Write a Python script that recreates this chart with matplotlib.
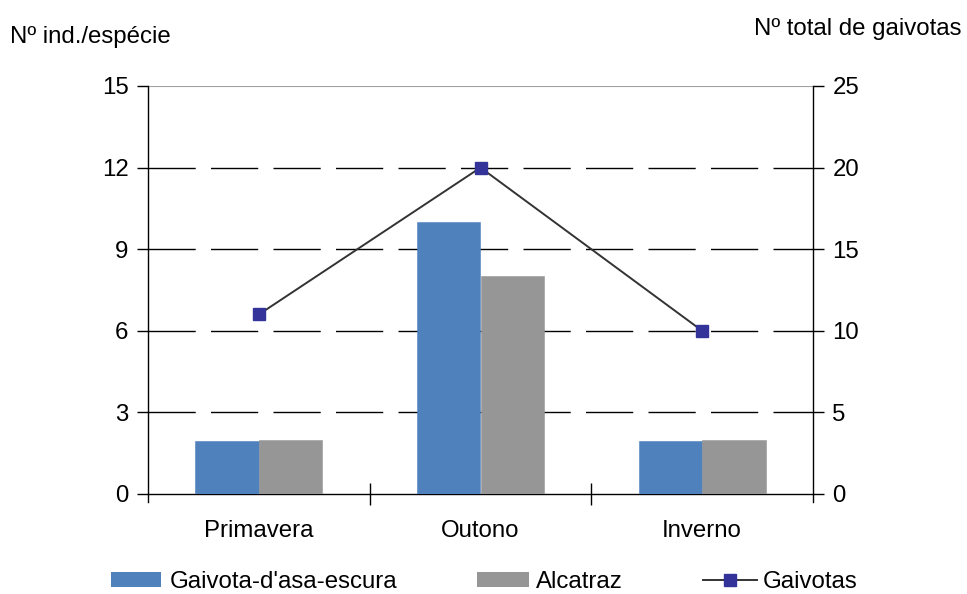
import matplotlib
matplotlib.use("Agg")
import matplotlib.pyplot as plt
import numpy as np
from matplotlib.patches import Patch
from matplotlib.lines import Line2D

plt.rcParams['font.family'] = ['Liberation Sans', 'DejaVu Sans']

seasons = ["Primavera", "Outono", "Inverno"]
gaivota_asa_escura = [1.95, 10.0, 1.95]
alcatraz = [2.0, 8.0, 2.0]
gaivotas_total = [11, 20, 10]

left_ticks = [0, 3, 6, 9, 12, 15]
right_ticks = [0, 5, 10, 15, 20, 25]

blue = "#4F81BD"
grey = "#969696"
line_col = "#333333"
marker_col = "#333399"
fs = 17.3

W, H = 967, 594
fig = plt.figure(figsize=(W/100, H/100), dpi=100)
ax = fig.add_axes([148/W, 1 - 494/H, (813-148)/W, (494-86)/H])

x = np.arange(len(seasons))
w = 0.286
ax.bar(x - w/2, gaivota_asa_escura, w, color=blue, edgecolor=blue, lw=0.4, zorder=3)
ax.bar(x + w/2, alcatraz, w, color=grey, edgecolor=grey, lw=0.4, zorder=3)

ax.set_xlim(-0.5, 2.5)
ax.set_ylim(0, 15)
ax.set_yticks(left_ticks)
for t in left_ticks[1:-1]:
    ax.axhline(t, color="black", lw=1.0, dashes=(34, 11), zorder=1)
ax.axhline(15, color="#a0a0a0", lw=1.5, zorder=1)

ax.set_xticks([0.5, 1.5], minor=False)
ax.set_xticklabels([])
ax.set_xticks(x, minor=True)
ax.set_xticklabels(seasons, minor=True)
ax.tick_params(axis='x', which='major', direction='inout', length=16, width=1)
ax.tick_params(axis='x', which='minor', length=0, pad=19, labelsize=fs)
ax.tick_params(axis='y', direction='out', length=8, width=1, labelsize=fs, pad=6)

ax.spines['top'].set_visible(False)
ax.spines['right'].set_visible(False)
ax.spines['left'].set_linewidth(1.0)
ax.spines['bottom'].set_linewidth(1.0)
ax.spines['left'].set_bounds(-0.3, 15)

ax2 = ax.twinx()
ax2.set_ylim(0, 25)
ax2.set_yticks(right_ticks)
ax2.plot(x, gaivotas_total, color=line_col, lw=1.4, marker='s', markersize=8.6,
         markerfacecolor=marker_col, markeredgecolor=marker_col, zorder=4)
ax2.tick_params(axis='y', direction='out', length=8, width=1, labelsize=fs, pad=6)
for s in ['top', 'left', 'bottom']:
    ax2.spines[s].set_visible(False)
ax2.spines['right'].set_linewidth(1.0)
ax2.spines['right'].set_bounds(-25*0.3/15, 25)

fig.text(10/W, 1 - 37/H, "Nº ind./espécie", fontsize=fs, va='center', ha='left')
fig.text(962/W, 1 - 29/H, "Nº total de gaivotas", fontsize=fs, va='center', ha='right')

# legend entries laid out along the bottom edge
fpx = fs * 100 / 72
entries = [
    (Patch(facecolor=blue, edgecolor='none'), "Gaivota-d'asa-escura", 111, 50, 9),
    (Patch(facecolor=grey, edgecolor='none'), "Alcatraz", 477, 52, 7),
    (Line2D([0], [0], color=line_col, lw=1.4, marker='s', markersize=8.6,
            markerfacecolor=marker_col, markeredgecolor=marker_col), "Gaivotas", 703, 54, 6),
]
for handle, label, x0, hlen, gap in entries:
    fig.legend([handle], [label], loc='center left', bbox_to_anchor=(x0/W, 1 - 582/H),
               frameon=False, fontsize=fs, handlelength=hlen/fpx, handleheight=15/fpx,
               handletextpad=gap/fpx, borderpad=0, borderaxespad=0)

fig.savefig("out.png", dpi=100)
